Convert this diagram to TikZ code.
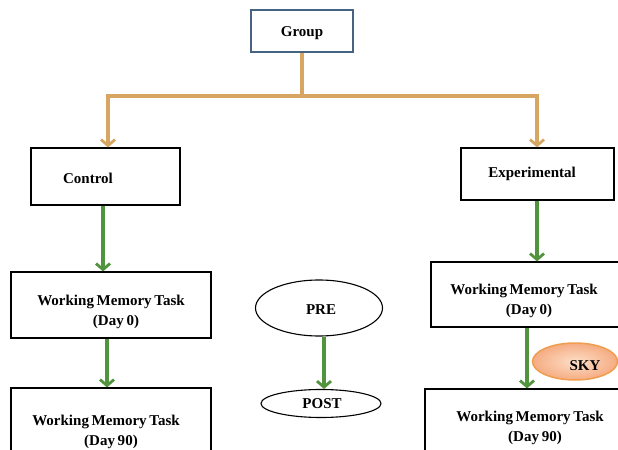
\documentclass[tikz,border=0pt]{standalone}
\usepackage{fontspec}
\setmainfont{Liberation Serif}
\usetikzlibrary{arrows.meta,shapes.geometric}
\definecolor{otan}{RGB}{214,166,98}
\definecolor{ogreen}{RGB}{82,148,62}
\definecolor{gborder}{RGB}{70,100,130}
\definecolor{skyfillA}{RGB}{253,222,200}
\definecolor{skyfillB}{RGB}{245,172,130}
\definecolor{skyborder}{RGB}{240,158,78}
\newcommand\diagfont{\fontsize{15bp}{20bp}\selectfont\bfseries\spaceskip=0.18em plus 0.05em\relax}
\tikzset{
  box/.style={draw=black, line width=1.2bp, rectangle, fill=white, inner sep=0pt},
  ell/.style={draw=black, line width=1.1bp, ellipse, inner sep=0pt, fill=white},
  txt/.style={font=\diagfont, align=center, inner sep=0pt},
  oarr/.style={draw=otan, line width=4.3bp, -{Straight Barb[length=6bp,width=14bp,line width=2.8bp]}},
  oline/.style={draw=otan, line width=4.3bp},
  garr/.style={draw=ogreen, line width=3.5bp, -{Straight Barb[length=6bp,width=14bp,line width=2.8bp]}},
}
\begin{document}
\begin{tikzpicture}[x=1bp,y=-1bp]
\useasboundingbox (0,0) rectangle (618,450);
\clip (0,0) rectangle (618,450);
% boxes
\node[box, draw=gborder, minimum width=102bp, minimum height=42bp] (group) at (302,31) {};
\node[txt] (grouptxt) at (302,33) {Group};
\node[box, minimum width=149bp, minimum height=57bp] (control) at (105.5,176.5) {};
\node[txt] (controltxt) at (88,178) {Control};
\node[box, minimum width=153bp, minimum height=52bp] (exp) at (537.5,174) {};
\node[txt] (exptxt) at (532,174) {Experimental};
\node[box, minimum width=200bp, minimum height=66bp] (wl0) at (111,305) {};
\node[txt] (wl0txt) at (111,312) {Working Memory Task\\\hspace*{10bp}(Day 0)};
\node[box, minimum width=200bp, minimum height=80bp] (wl90) at (111,428) {};
\node[txt] (wl90txt) at (106,432) {Working Memory Task\\\hspace*{10bp}(Day 90)};
\node[box, minimum width=189bp, minimum height=65bp] (wr0) at (525.5,294.5) {};
\node[txt] (wr0txt) at (524,301) {Working Memory Task\\\hspace*{10bp}(Day 0)};
\node[box, minimum width=210bp, minimum height=80bp] (wr90) at (530,429) {};
\node[txt] (wr90txt) at (530,428) {Working Memory Task\\\hspace*{10bp}(Day 90)};
% ellipses
\node[ell, minimum width=127bp, minimum height=56bp] (pre) at (319,308) {};
\node[txt] (pretxt) at (321,310) {PRE};
\node[ell, minimum width=120bp, minimum height=28bp] (post) at (321,403.5) {};
\node[txt] (posttxt) at (322,404) {POST};
% junction coordinates
\coordinate (jl) at (108,96);
\coordinate (jr) at (537,96);
\coordinate (gx1) at (103,0);
\coordinate (gx2) at (107,0);
\coordinate (gx3) at (537,0);
\coordinate (gx4) at (527,0);
\coordinate (gx5) at (324,0);
% orange connectors
\draw[oline] (group.south) -- (group.south |- jl);
\draw[oarr] (group.south |- jl) -| (control.north -| jl);
\draw[oarr] (group.south |- jr) -| (exp.north -| jr);
% green connectors
\draw[garr] (control.south -| gx1) -- (wl0.north -| gx1);
\draw[garr] (wl0.south -| gx2) -- (wl90.north -| gx2);
\draw[garr] (exp.south -| gx3) -- (wr0.north -| gx3);
\draw[garr] (wr0.south -| gx4) -- (wr90.north -| gx4);
\draw[garr] (pre.south -| gx5) -- (post.north -| gx5);
% SKY
\node[ellipse, draw=skyborder, line width=1.5bp, inner color=skyfillA, outer color=skyfillB, minimum width=85bp, minimum height=37bp, inner sep=0pt] (sky) at (575,361.5) {};
\node[txt] (skytxt) at (585,366) {SKY};
\end{tikzpicture}
\end{document}
